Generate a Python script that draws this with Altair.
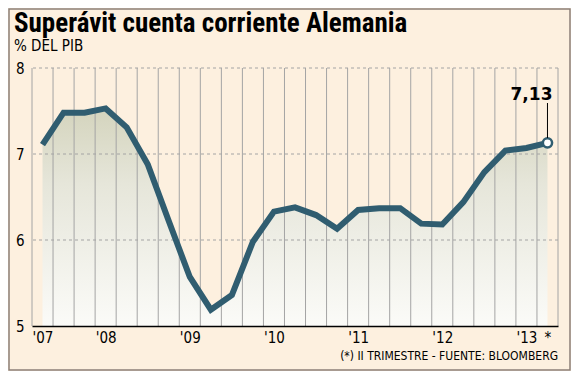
import json
import altair as alt
import pandas as pd

# ---- data ----
quarters = ["II-07", "III-07", "IV-07", "I-08", "II-08", "III-08", "IV-08",
            "I-09", "II-09", "III-09", "IV-09", "I-10", "II-10", "III-10", "IV-10",
            "I-11", "II-11", "III-11", "IV-11", "I-12", "II-12", "III-12", "IV-12",
            "I-13", "II-13"]
values = [7.11, 7.48, 7.48, 7.53, 7.31, 6.88, 6.22, 5.57, 5.19, 5.36, 5.98, 6.33,
          6.38, 6.29, 6.13, 6.35, 6.37, 6.37, 6.19, 6.18, 6.44, 6.79, 7.04, 7.07, 7.13]
tick_pos = [0, 3, 7, 11, 15, 19, 23, 24]
tick_labels = ["'07", "'08", "'09", "'10", "'11", "'12", "'13", "*"]
y_ticks = [5, 6, 7, 8]
y_grid = [6, 7, 8]
last_label = "7,13"
title = "Superávit cuenta corriente Alemania"
subtitle = "% DEL PIB"
footnote = "(*) II TRIMESTRE - FUENTE: BLOOMBERG"

n = len(values)
df = pd.DataFrame({"i": list(range(n)), "q": quarters, "v": values})
bounds = pd.DataFrame({"b": [k - 0.5 for k in range(n + 1)]})
hgrid = pd.DataFrame({"y": y_grid})
last = df.iloc[[-1]].assign(lab=last_label)

label_arr = [""] * n
for p, l in zip(tick_pos, tick_labels):
    label_arr[p] = l
label_expr = json.dumps(label_arr) + "[datum.value]"

W, H = 526, 258
BG = "#fdf0df"
LINE = "#305d70"
GRID = "#a4a4a4"
SANS = "DejaVu Sans Condensed, DejaVu Sans, sans-serif"

xs = alt.Scale(domain=[-0.5, n - 0.5], nice=False, zero=False)
ys = alt.Scale(domain=[5, 8], nice=False, zero=False)

x_axis = alt.Axis(values=tick_pos, labelExpr=label_expr, title=None, grid=False,
                  ticks=False, domain=True, domainColor="#000000", domainWidth=1.5,
                  labelFontSize=15, labelFont=SANS, labelColor="#000000",
                  labelPadding=4, labelOverlap=False, labelFlush=False, zindex=1)
y_axis = alt.Axis(values=y_ticks, format="d", title=None, grid=False, ticks=False,
                  domain=False, labelFontSize=15, labelFont=SANS,
                  labelColor="#000000", labelPadding=8)

base = alt.Chart(df)

area = base.mark_area(
    fill=alt.Gradient(gradient="linear",
                      stops=[alt.GradientStop(color="#d4d4bd", offset=0),
                             alt.GradientStop(color="#e6e6da", offset=0.35),
                             alt.GradientStop(color="#fbfbf8", offset=1)],
                      x1=0, x2=0, y1=0, y2=1)
).encode(
    x=alt.X("i:Q", scale=xs, axis=x_axis),
    y=alt.Y("v:Q", scale=ys, axis=y_axis),
    y2=alt.datum(5),
)

vrules = alt.Chart(bounds).mark_rule(color=GRID, strokeWidth=1).encode(
    x=alt.X("b:Q", scale=xs))

hrules = alt.Chart(hgrid).mark_rule(color=GRID, strokeWidth=1, strokeDash=[3, 3]).encode(
    y=alt.Y("y:Q", scale=ys))

line = base.mark_line(color=LINE, strokeWidth=6, strokeJoin="miter").encode(
    x=alt.X("i:Q", scale=xs), y=alt.Y("v:Q", scale=ys))

pt = alt.Chart(last).mark_point(filled=True, fill="#ffffff", stroke=LINE,
                                strokeWidth=2.5, size=85, opacity=1).encode(
    x=alt.X("i:Q", scale=xs), y=alt.Y("v:Q", scale=ys))

leader = alt.Chart(last).mark_rule(color="#000000", strokeWidth=1).encode(
    x=alt.X("i:Q", scale=xs), y=alt.value(35), y2=alt.value(70))

lab = alt.Chart(last).mark_text(font="DejaVu Sans", fontWeight="bold", fontSize=17,
                                align="right", baseline="alphabetic", dx=5, dy=-43,
                                color="#000000").encode(
    x=alt.X("i:Q", scale=xs), y=alt.Y("v:Q", scale=ys), text="lab:N")

t_title = alt.Chart(pd.DataFrame({"t": [title]})).mark_text(
    font="Liberation Sans Narrow, Roboto Condensed, Noto Sans Condensed, Open Sans Condensed, DejaVu Sans Condensed, sans-serif",
    fontWeight="bold", fontSize=27, align="left", baseline="alphabetic",
    color="#000000").encode(x=alt.value(-18), y=alt.value(-36), text="t:N")

t_sub = alt.Chart(pd.DataFrame({"t": [subtitle]})).mark_text(
    font=SANS, fontSize=15, align="left", baseline="alphabetic",
    color="#000000").encode(x=alt.value(-18), y=alt.value(-17), text="t:N")

t_foot = alt.Chart(pd.DataFrame({"t": [footnote]})).mark_text(
    font=SANS, fontSize=12, align="right", baseline="alphabetic",
    color="#000000").encode(x=alt.value(W), y=alt.value(292), text="t:N")

frame = alt.Chart(pd.DataFrame({"t": [0]})).mark_rect(
    fill="transparent", stroke="#8c7f78", strokeWidth=1.5).encode(
    x=alt.value(-23), x2=alt.value(538), y=alt.value(-59), y2=alt.value(302))

chart = alt.layer(area, vrules, hrules, line, pt, leader, lab,
                  t_title, t_sub, t_foot, frame).properties(
    width=W, height=H,
    autosize=alt.AutoSizeParams(type="none"),
    padding={"left": 24, "top": 60, "right": 13, "bottom": 45},
    background=BG,
).configure_view(stroke=None)

chart.save("out.html", embed_options={"renderer": "svg", "actions": False})
